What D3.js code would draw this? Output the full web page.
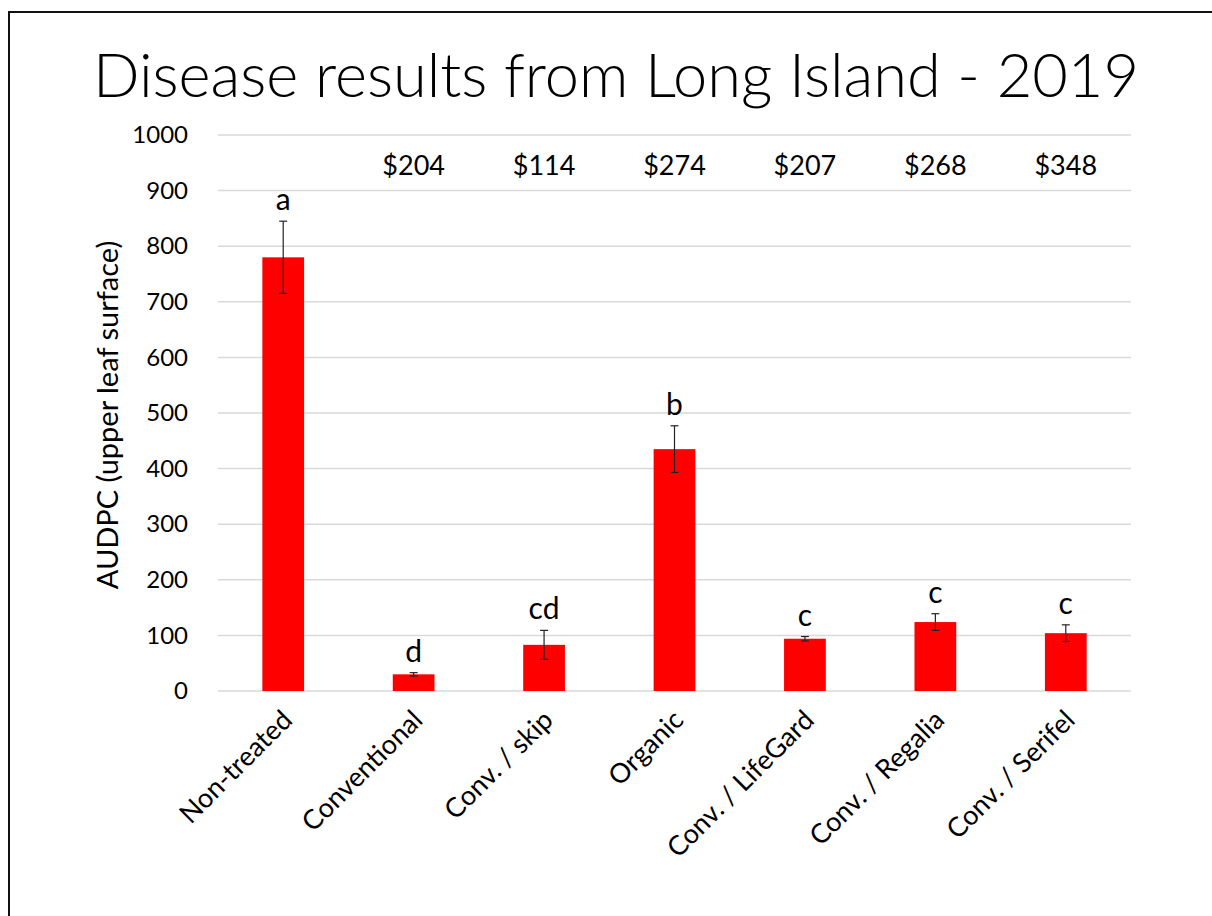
<!DOCTYPE html>
<html>
<head>
<meta charset="utf-8">
<script src="https://cdn.jsdelivr.net/npm/d3@7"></script>
<style>
  body { margin: 0; background: #fff; }
  text { font-family: Lato, "Open Sans", sans-serif; fill: #000; }
</style>
</head>
<body>
<script>
///////////////////   Data   /////////////////

var treatments = ["Non-treated", "Conventional", "Conv. / skip", "Organic",
                  "Conv. / LifeGard", "Conv. / Regalia", "Conv. / Serifel"];
var audpc  = [780, 30, 83, 435, 94, 124, 104];
var stdErr = [65, 3, 26, 42, 4, 15, 15];
var letters = ["a", "d", "cd", "b", "c", "c", "c"];
var costs = ["", "$204", "$114", "$274", "$207", "$268", "$348"];
var yTicks = [0, 100, 200, 300, 400, 500, 600, 700, 800, 900, 1000];

///////////////////   Layout   /////////////////

var W = 1212, H = 916;
var plotLeft = 218, plotRight = 1131,
    plotTop = 135, plotBottom = 691;

var svg = d3.select("body").append("svg")
    .attr("width", W)
    .attr("height", H);

// frame round the slide
svg.append("path")
    .attr("d", "M9," + H + "V12H" + W)
    .attr("fill", "none")
    .attr("stroke", "#111")
    .attr("stroke-width", 2);

// title
svg.append("text")
    .attr("x", 616)
    .attr("y", 97)
    .attr("text-anchor", "middle")
    .attr("font-size", 62)
    .attr("font-weight", 300)
    .attr("textLength", 1046)
    .attr("lengthAdjust", "spacingAndGlyphs")
    .text("Disease results from Long Island - 2019");

var x = d3.scaleBand()
    .domain(treatments)
    .range([plotLeft, plotRight])
    .paddingInner(0.68)
    .paddingOuter(0.34);

var y = d3.scaleLinear()
    .domain([0, 1000])
    .range([plotBottom, plotTop]);

// gridlines
svg.append("g")
    .selectAll("line")
    .data(yTicks)
    .enter().append("line")
    .attr("x1", plotLeft)
    .attr("x2", plotRight)
    .attr("y1", function(d) { return y(d); })
    .attr("y2", function(d) { return y(d); })
    .attr("stroke", "#d9d9d9")
    .attr("stroke-width", 1.5);

// y axis labels (no domain line, no ticks)
var yAxis = svg.append("g")
    .attr("transform", "translate(" + (plotLeft - 30) + ",0)")
    .call(d3.axisLeft(y).tickValues(yTicks).tickFormat(d3.format("d"))
        .tickSize(0).tickPadding(0));
yAxis.select(".domain").remove();
yAxis.selectAll("text")
    .attr("font-size", 24)
    .attr("font-family", "Lato, 'Open Sans', sans-serif")
    .attr("fill", "#000");

svg.append("text")
    .attr("transform", "translate(118," + ((plotTop + plotBottom) / 2 + 2) + ") rotate(-90)")
    .attr("text-anchor", "middle")
    .attr("font-size", 29)
    .text("AUDPC (upper leaf surface)");

// bars
var cx = function(d) { return x(d) + x.bandwidth() / 2; };

svg.append("g")
    .selectAll("rect")
    .data(treatments)
    .enter().append("rect")
    .attr("x", function(d) { return x(d); })
    .attr("width", x.bandwidth())
    .attr("y", function(d, i) { return y(audpc[i]); })
    .attr("height", function(d, i) { return y(0) - y(audpc[i]); })
    .attr("fill", "#ff0000");

// error bars
var err = svg.append("g")
    .attr("stroke", "#222")
    .attr("stroke-width", 1.2);
treatments.forEach(function(d, i) {
    var c = cx(d), hi = y(audpc[i] + stdErr[i]), lo = y(audpc[i] - stdErr[i]);
    err.append("line").attr("x1", c).attr("x2", c).attr("y1", hi).attr("y2", lo);
    err.append("line").attr("x1", c - 4).attr("x2", c + 4).attr("y1", hi).attr("y2", hi);
    err.append("line").attr("x1", c - 4).attr("x2", c + 4).attr("y1", lo).attr("y2", lo);
});

// significance letters
svg.append("g")
    .selectAll("text")
    .data(treatments)
    .enter().append("text")
    .attr("x", cx)
    .attr("y", function(d, i) { return y(audpc[i] + stdErr[i]) - 11; })
    .attr("text-anchor", "middle")
    .attr("font-size", 30)
    .text(function(d, i) { return letters[i]; });

// cost labels
svg.append("g")
    .selectAll("text")
    .data(treatments)
    .enter().append("text")
    .attr("x", cx)
    .attr("y", 175)
    .attr("text-anchor", "middle")
    .attr("font-size", 27)
    .text(function(d, i) { return costs[i]; });

// category labels, rotated
svg.append("g")
    .selectAll("text")
    .data(treatments)
    .enter().append("text")
    .attr("transform", function(d) {
        return "translate(" + (cx(d) + 4) + "," + (plotBottom + 24) + ") rotate(-45)";
    })
    .attr("text-anchor", "end")
    .attr("dy", "0.35em")
    .attr("font-size", 27)
    .text(function(d) { return d; });
</script>
</body>
</html>
